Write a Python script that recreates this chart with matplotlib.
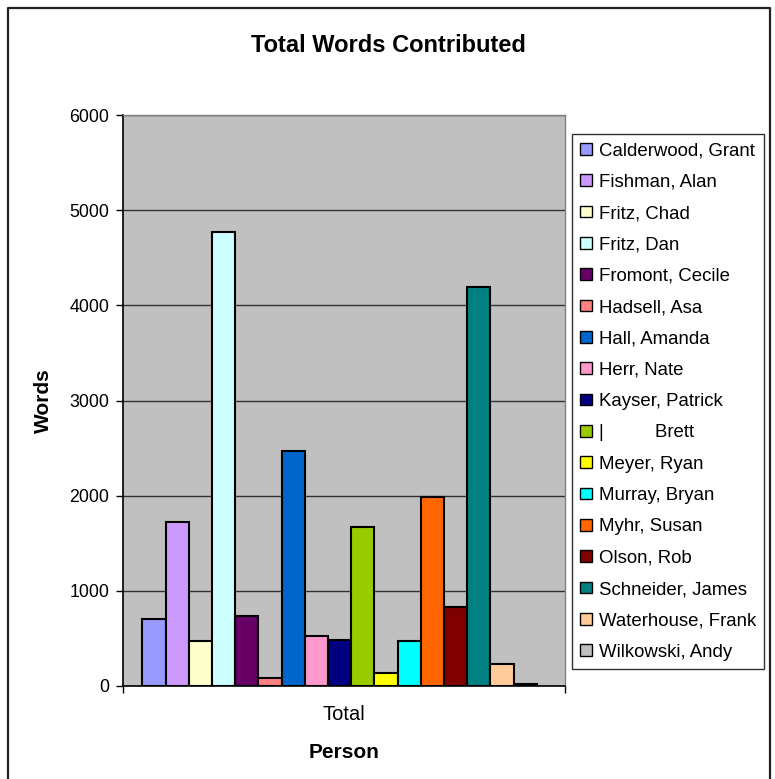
import matplotlib
matplotlib.use("Agg")
import matplotlib.pyplot as plt
from matplotlib.lines import Line2D

plt.rcParams['font.family'] = ['Liberation Sans', 'DejaVu Sans']

people = ["Calderwood, Grant", "Fishman, Alan", "Fritz, Chad", "Fritz, Dan",
          "Fromont, Cecile", "Hadsell, Asa", "Hall, Amanda", "Herr, Nate",
          "Kayser, Patrick", "|          Brett", "Meyer, Ryan", "Murray, Bryan",
          "Myhr, Susan", "Olson, Rob", "Schneider, James", "Waterhouse, Frank",
          "Wilkowski, Andy"]
words = [705, 1720, 473, 4770, 733, 80, 2470, 530, 484, 1672, 140, 473,
         1987, 828, 4195, 234, 18]
colors = ["#9999FF", "#CC99FF", "#FFFFCC", "#CCFFFF", "#660066", "#FF8080",
          "#0066CC", "#FF99CC", "#000080", "#99CC00", "#FFFF00", "#00FFFF",
          "#FF6600", "#800000", "#008080", "#FFCC99", "#C0C0C0"]
category = ["Total"]
yticks = [0, 1000, 2000, 3000, 4000, 5000, 6000]

W, H = 775, 779
fig = plt.figure(figsize=(W / 100, H / 100), dpi=100)
# chart border: left, top, right (open at the bottom)
fig.lines.append(Line2D([7.5 / W, 7.5 / W, 769.5 / W, 769.5 / W],
                        [0, 1 - 7.5 / H, 1 - 7.5 / H, 0],
                        transform=fig.transFigure, color='#222222', linewidth=1.6))

ax = fig.add_axes([123 / W, 1 - 686 / H, (565 - 123) / W, (686 - 115) / H])
ax.set_facecolor('#C0C0C0')
n = len(words)
bw = 23.2 / 442
x0 = -bw * n / 2 - 0.01
handles = []
for i, (p, v, c) in enumerate(zip(people, words, colors)):
    b = ax.bar(x0 + bw * (i + 0.5), v, width=bw, color=c, edgecolor='black',
               linewidth=1.5, label=p, zorder=3)
    handles.append(b)

ax.set_xlim(-0.5, 0.5)
ax.set_ylim(0, 6000)
ax.set_yticks(yticks)
ax.set_yticklabels([str(t) for t in yticks], fontsize=12.8)
ax.set_xticks([0])
ax.set_xticklabels(category, fontsize=14.5)
ax.tick_params(axis='x', length=0, pad=14)
ax.set_xticks([-0.5, 0.5], minor=True)
ax.tick_params(axis='x', which='minor', length=5, direction='out', width=1)
ax.tick_params(axis='y', length=5, direction='out', width=1, pad=5)
ax.yaxis.grid(True, color='#333333', linewidth=1, zorder=1)
ax.set_axisbelow(True)
for s in ['top', 'right']:
    ax.spines[s].set_color('#808080')
    ax.spines[s].set_linewidth(1)
for s in ['left', 'bottom']:
    ax.spines[s].set_color('black')
    ax.spines[s].set_linewidth(1.2)

ax.set_ylabel("Words", fontsize=15, fontweight='bold', labelpad=12)
ax.set_xlabel("Person", fontsize=15, fontweight='bold', labelpad=13)
fig.text(388 / W, 1 - 46 / H, "Total Words Contributed", fontsize=17,
         fontweight='bold', ha='center', va='center')

leg = fig.legend(handles=handles, loc='upper left', bbox_to_anchor=(572 / W, 1 - 134 / H),
                 fontsize=13.4, frameon=True, fancybox=False, edgecolor='black',
                 handlelength=0.6, handleheight=0.6, handletextpad=0.38,
                 labelspacing=0.77, borderpad=0.45, borderaxespad=0)
leg.get_frame().set_linewidth(1)
for h in leg.legend_handles:
    h.set_linewidth(1)

fig.savefig("out.png", dpi=100)
